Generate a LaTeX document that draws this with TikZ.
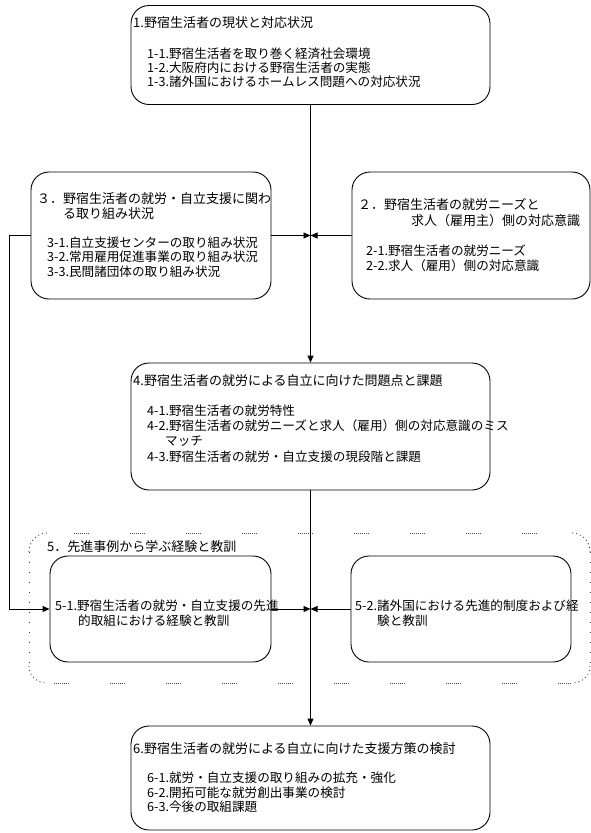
\documentclass[tikz,border=0pt]{standalone}
\usepackage{fontspec}
\setmainfont{Noto Sans CJK JP}
\usetikzlibrary{arrows.meta}
\begin{document}
\begin{tikzpicture}[x=1pt,y=-1pt,
  box/.style={draw, line width=0.9pt, rounded corners=18pt, inner sep=0pt},
  ttl/.style={anchor=west, inner sep=0pt, font=\fontsize{13}{15}\selectfont},
  itm/.style={anchor=west, inner sep=0pt, font=\fontsize{12.6}{15}\selectfont},
  conn/.style={line width=0.9pt},
  arr/.style={conn, -{Triangle[length=7pt,width=6pt]}},
  hdots/.style={line width=0.8pt, black!70, dash pattern=on 1pt off 1pt on 1pt off 1pt on 1pt off 1pt on 1pt off 1pt on 1pt off 1pt on 1pt off 1pt on 1pt off 1pt on 1pt off 41pt},
  vdots/.style={line width=1pt, black!80, dash pattern=on 1pt off 9pt},
  cdots/.style={line width=0.8pt, black!80, dash pattern=on 1pt off 3pt},
]
\useasboundingbox (0,0) rectangle (591,833);

% boxes
\node[box, minimum width=359pt, minimum height=99pt] (b1) at (310.5,55) {};
\node[box, minimum width=240pt, minimum height=127pt] (b3) at (151,235.5) {};
\node[box, minimum width=238pt, minimum height=127pt] (b2) at (471,235.5) {};
\node[box, minimum width=359pt, minimum height=127pt] (b4) at (310.5,426.5) {};
\node[box, minimum width=221pt, minimum height=106pt] (b51) at (160.5,609) {};
\node[box, minimum width=220pt, minimum height=106pt] (b52) at (461,609) {};
\node[box, minimum width=359pt, minimum height=104pt] (b6) at (310.5,778) {};

% group frame (dotted)
\draw[hdots, dash phase=29pt] (47,533) -- (572,533);
\draw[hdots, dash phase=49pt] (47,683) -- (572,683);
\draw[vdots] (29,552) -- (29,666);
\draw[vdots] (590,552) -- (590,666);
\draw[cdots] (29,552) .. controls (29,541) and (37,533) .. (47,533);
\draw[cdots] (29,666) .. controls (29,676) and (37,683) .. (47,683);
\draw[cdots] (590,552) .. controls (590,541) and (582,533) .. (572,533);
\draw[cdots] (590,666) .. controls (590,676) and (582,683) .. (572,683);

% meeting points
\coordinate (m1) at (310.5,235.5);
\coordinate (m2) at (310.5,609);

% connectors
\draw[arr] (b1.south) -- (b4.north);
\draw[arr] (b3.east) -- (m1);
\draw[arr] (b2.west) -- (m1);
\draw[arr] (b3.west) -- ++(-21,0) |- (b51.west);
\draw[arr] (b4.south) -- (b6.north);
\draw[arr] (b51.east) -- (m2);
\draw[arr] (b52.west) -- (m2);

% texts box 1
\node[ttl] (t1) at (133,23) {1.野宿生活者の現状と対応状況};
\node[itm] (t11) at (147,54) {1-1.野宿生活者を取り巻く経済社会環境};
\node[itm] (t12) at (147,68) {1-2.大阪府内における野宿生活者の実態};
\node[itm] (t13) at (147,82) {1-3.諸外国におけるホームレス問題への対応状況};

% box 3
\node[ttl] (t3a) at (37,199) {３．野宿生活者の就労・自立支援に関わ};
\node[ttl] (t3b) at (63,214) {る取り組み状況};
\node[itm] (t31) at (47,243) {3-1.自立支援センターの取り組み状況};
\node[itm] (t32) at (47,257) {3-2.常用雇用促進事業の取り組み状況};
\node[itm] (t33) at (47,272) {3-3.民間諸団体の取り組み状況};

% box 2
\node[ttl] (t2a) at (358,205) {２．野宿生活者の就労ニーズと};
\node[ttl] (t2b) at (411,221) {求人（雇用主）側の対応意識};
\node[itm] (t21) at (366,251) {2-1.野宿生活者の就労ニーズ};
\node[itm] (t22) at (366,266) {2-2.求人（雇用）側の対応意識};

% box 4
\node[ttl] (t4) at (133,381) {4.野宿生活者の就労による自立に向けた問題点と課題};
\node[itm] (t41) at (147,411) {4-1.野宿生活者の就労特性};
\node[itm] (t42) at (147,426) {4-2.野宿生活者の就労ニーズと求人（雇用）側の対応意識のミス};
\node[itm] (t42b) at (165,441) {マッチ};
\node[itm] (t43) at (147,457) {4-3.野宿生活者の就労・自立支援の現段階と課題};

% group 5
\node[ttl] (t5) at (47,547) {5．先進事例から学ぶ経験と教訓};
\node[itm] (t51a) at (55,606) {5-1.野宿生活者の就労・自立支援の先進};
\node[itm] (t51b) at (78,621) {的取組における経験と教訓};
\node[itm] (t52a) at (355,606) {5-2.諸外国における先進的制度および経};
\node[itm] (t52b) at (377,621) {験と教訓};

% box 6
\node[ttl] (t6) at (133,749) {6.野宿生活者の就労による自立に向けた支援方策の検討};
\node[itm] (t61) at (147,778) {6-1.就労・自立支援の取り組みの拡充・強化};
\node[itm] (t62) at (147,793) {6-2.開拓可能な就労創出事業の検討};
\node[itm] (t63) at (147,807) {6-3.今後の取組課題};
\end{tikzpicture}
\end{document}
